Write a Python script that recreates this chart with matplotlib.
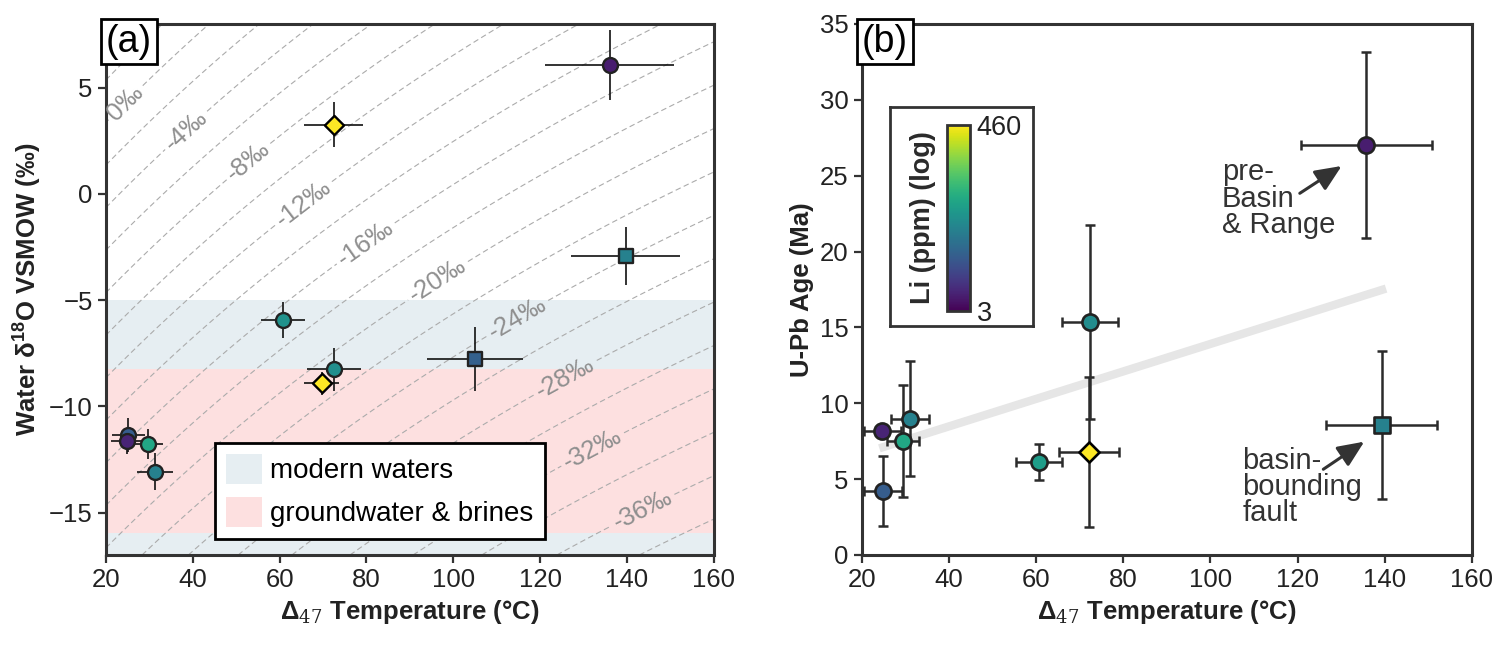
import numpy as np
import matplotlib
matplotlib.use("Agg")
import matplotlib.pyplot as plt
from matplotlib.colors import LogNorm
from matplotlib.patches import Patch

plt.rcParams['font.family'] = ['Liberation Sans', 'DejaVu Sans']
plt.rcParams['mathtext.fontset'] = 'custom'
plt.rcParams['mathtext.rm'] = 'DejaVu Serif'
plt.rcParams['mathtext.bf'] = 'Liberation Sans:bold'

# ---- panel (a): water d18O vs clumped temperature ----
a_temp = [136.0, 72.5, 139.7, 60.8, 72.5, 69.7, 105.0, 25.1, 24.8, 29.7, 31.3]
a_temp_err = [14.9, 6.8, 12.6, 5.1, 6.3, 4.0, 11.0, 3.8, 3.6, 3.5, 4.2]
a_d18o = [6.08, 3.26, -2.92, -5.94, -8.26, -8.92, -7.78, -11.36, -11.63, -11.76, -13.07]
a_d18o_err = [1.66, 1.06, 1.37, 0.86, 1.0, 0.55, 1.5, 0.8, 0.6, 0.7, 0.86]
a_li = [4.5, 460, 27, 38, 36, 460, 14, 13, 5, 60, 27]
a_marker = ['o', 'D', 's', 'o', 'o', 'D', 's', 'o', 'o', 'o', 'o']

# shaded ranges (permil)
modern_range = (-17.0, -5.0)
brine_range = (-15.95, -8.25)

# calcite d18O isolines (permil VPDB)
iso_levels = np.arange(-40, 6, 2)
iso_label_levels = np.arange(-36, 1, 4)

# ---- panel (b): U-Pb age vs clumped temperature ----
b_temp = [24.7, 24.9, 31.0, 29.5, 60.7, 72.2, 72.3, 135.8, 139.3]
b_temp_err = [4.2, 4.4, 4.4, 3.7, 5.3, 6.9, 6.4, 15.0, 12.7]
b_age = [8.19, 4.22, 8.99, 7.53, 6.11, 6.77, 15.38, 27.03, 8.57]
b_age_err = [0.3, 2.3, 3.8, 3.7, 1.2, 4.95, 6.4, 6.15, 4.88]
b_li = [5, 13, 27, 60, 48, 460, 34, 4.5, 27]
b_marker = ['o', 'o', 'o', 'o', 'o', 'D', 'o', 'o', 's']

# trend line
trend_temp = [24.0, 140.3]
trend_age = [7.03, 17.56]

li_min, li_max = 3, 460
cmap = plt.get_cmap('viridis')
norm = LogNorm(vmin=li_min, vmax=li_max)

dark = '#333333'
tick_fs = 18.5
size_a = {'o': 115, 's': 92, 'D': 95}
size_b = {'o': 135, 's': 140, 'D': 105}


def calcite_vpdb(t_c, d_water):
    # Kim & O'Neil (1997) calcite-water fractionation
    lna = (18.03e3 / (t_c + 273.15) - 32.42) / 1000.0
    d_cal_smow = (1000.0 + d_water) * np.exp(lna) - 1000.0
    return (d_cal_smow - 30.91) / 1.03091


def style_axes(ax):
    for s in ax.spines.values():
        s.set_linewidth(2.2)
        s.set_color(dark)
    ax.tick_params(direction='out', length=6, width=1.6, color=dark,
                   labelsize=tick_fs, labelcolor='#222222')


def panel_tag(ax, txt):
    ax.text(0.0, 1.0, txt, transform=ax.transAxes, ha='left', va='top',
            fontsize=27, zorder=10,
            bbox=dict(boxstyle='square,pad=0.12', fc='white', ec='black', lw=2))


fig = plt.figure(figsize=(15.09, 6.52), dpi=100)
ax1 = fig.add_axes([0.0702, 0.1488, 0.4029, 0.8144])
ax2 = fig.add_axes([0.5712, 0.1488, 0.4042, 0.8144])

# ---------------- (a) ----------------
ax1.set_xlim(20, 160)
ax1.set_ylim(-17, 8)
ax1.axhspan(*modern_range, color='#e6eef2', lw=0, zorder=0)
ax1.axhspan(*brine_range, color='#fde0e0', lw=0, zorder=0.1)

tt, ww = np.meshgrid(np.linspace(20, 160, 300), np.linspace(-17, 8, 300))
level_shift = 2.0  # align isolines with the labelled reference lines
zz = calcite_vpdb(tt, ww) - level_shift
plain_levels = [v for v in iso_levels if v not in iso_label_levels]
cs0 = ax1.contour(tt, ww, zz, levels=plain_levels, colors='#ababab',
                  linewidths=0.8, linestyles='dashed', zorder=1)
cs = ax1.contour(tt, ww, zz, levels=iso_label_levels, colors='#ababab',
                 linewidths=0.8, linestyles='dashed', zorder=1)
for c in (cs0, cs):
    c.set_linestyle((0, (5, 3)))
label_pos = [(25.5, 4.1), (37.7, 3.16), (52.5, 1.6), (65.4, -0.4), (79.2, -2.15),
             (96.2, -4.0), (114.6, -5.8), (126, -8.7), (132, -12.0), (143.6, -14.9)]
ax1.clabel(cs, manual=label_pos, inline=True, fontsize=18.5, colors='#8f8f8f',
           fmt=lambda v: f'{v:.0f}‰', inline_spacing=4)

for i in range(len(a_temp)):
    ax1.errorbar(a_temp[i], a_d18o[i], xerr=a_temp_err[i], yerr=a_d18o_err[i],
                 fmt='none', ecolor='#111111', elinewidth=1.2, capsize=0, zorder=3)
for i in range(len(a_temp)):
    m = a_marker[i]
    ax1.scatter(a_temp[i], a_d18o[i], s=size_a[m], marker=m,
                c=[cmap(norm(a_li[i]))], edgecolors='#222222' if m != 'D' else 'black',
                linewidths=1.7, zorder=4)

leg = ax1.legend(handles=[Patch(facecolor='#e6eef2', label='modern waters'),
                          Patch(facecolor='#fde0e0', label='groundwater & brines')],
                 loc='lower left', bbox_to_anchor=(0.179, 0.031), borderaxespad=0,
                 fontsize=20, fancybox=False, framealpha=1, edgecolor='black',
                 handlelength=1.3, handleheight=1.3, borderpad=0.4, labelspacing=0.45,
                 handletextpad=0.3)
leg.get_frame().set_linewidth(2)
leg.set_zorder(6)

ax1.set_xticks(np.arange(20, 161, 20))
ax1.set_yticks([-15, -10, -5, 0, 5])
ax1.set_xlabel('Δ$_{47}$ Temperature (°C)', fontsize=tick_fs, fontweight='bold', color='#222222')
ax1.set_ylabel('Water δ$^{\\mathbf{18}}$O VSMOW (‰)', fontsize=tick_fs, fontweight='bold',
               color='#222222')
style_axes(ax1)
panel_tag(ax1, '(a)')

# ---------------- (b) ----------------
ax2.set_xlim(20, 160)
ax2.set_ylim(0, 35)
ax2.plot(trend_temp, trend_age, color='#e6e6e6', lw=6, solid_capstyle='butt', zorder=1)

for i in range(len(b_temp)):
    ax2.errorbar(b_temp[i], b_age[i], xerr=b_temp_err[i], yerr=b_age_err[i],
                 fmt='none', ecolor='#2b2b2b', elinewidth=1.8, capsize=3.5,
                 capthick=1.8, zorder=3)
for i in range(len(b_temp)):
    m = b_marker[i]
    ax2.scatter(b_temp[i], b_age[i], s=size_b[m], marker=m,
                c=[cmap(norm(b_li[i]))], edgecolors='#222222' if m != 'D' else 'black',
                linewidths=1.9, zorder=4)

arrow_kw = dict(arrowstyle='-|>,head_length=1.6,head_width=0.7',
                color=dark, lw=2.2, shrinkA=0, shrinkB=0)
ax2.annotate('', xy=(130.1, 25.64), xytext=(120.5, 23.84), arrowprops=arrow_kw)
ax2.text(102.6, 23.47, 'pre-\nBasin\n& Range', ha='left', va='center',
         fontsize=21, color=dark, linespacing=0.93)
ax2.annotate('', xy=(135.3, 7.47), xytext=(125.9, 5.65), arrowprops=arrow_kw)
ax2.text(107.3, 4.48, 'basin-\nbounding\nfault', ha='left', va='center',
         fontsize=21, color=dark, linespacing=0.93)

ax2.set_xticks(np.arange(20, 161, 20))
ax2.set_yticks(np.arange(0, 36, 5))
ax2.set_xlabel('Δ$_{47}$ Temperature (°C)', fontsize=tick_fs, fontweight='bold', color='#222222')
ax2.set_ylabel('U-Pb Age (Ma)', fontsize=tick_fs, fontweight='bold', color='#222222')
style_axes(ax2)
panel_tag(ax2, '(b)')

# colorbar inset with frame
frame = ax2.inset_axes([0.0459, 0.431, 0.2349, 0.413])
frame.set_xticks([])
frame.set_yticks([])
frame.set_facecolor('white')
for s in frame.spines.values():
    s.set_linewidth(2)
    s.set_color(dark)
frame.set_zorder(5)

cax = ax2.inset_axes([0.1389, 0.4595, 0.0381, 0.3509])
cax.set_zorder(6)
sm = plt.cm.ScalarMappable(norm=norm, cmap=cmap)
cb = fig.colorbar(sm, cax=cax, ticks=[li_min, li_max])
cb.ax.minorticks_off()
cb.ax.set_yticklabels([str(li_min), str(li_max)])
cb.ax.tick_params(length=0, labelsize=19.5, pad=5, labelcolor='#222222')
cb.outline.set_linewidth(2)
cb.outline.set_edgecolor(dark)
cb.ax.yaxis.set_label_position('left')
cb.set_label('Li (ppm) (log)', fontsize=19.5, fontweight='bold', color='#2a2a2a', labelpad=8)

fig.savefig('out.png', dpi=100)
